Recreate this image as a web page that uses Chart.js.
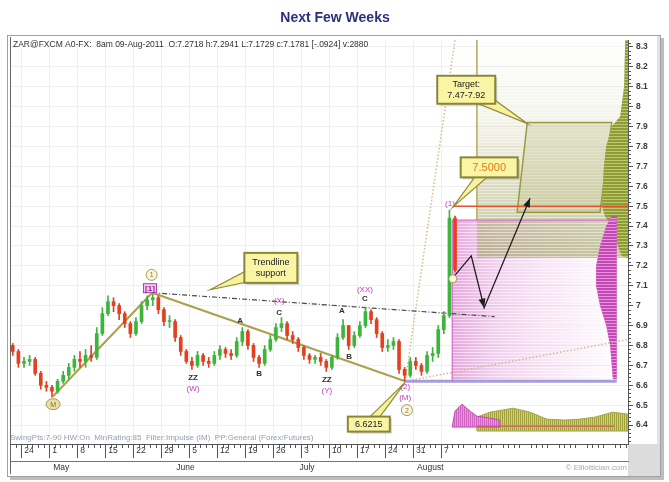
<!DOCTYPE html>
<html>
<head>
<meta charset="utf-8">
<title>Next Few Weeks</title>
<script src="https://cdn.jsdelivr.net/npm/chart.js@4.4.1/dist/chart.umd.min.js"></script>
<style>
  html, body { margin: 0; padding: 0; background: #fff; }
  #wrap { width: 669px; height: 482px; }
</style>
</head>
<body>
<div id="wrap"><canvas id="chart" width="669" height="482"></canvas></div>
<script>
/*****************************************
 * 1. DATA
 *****************************************/
// x is a trading-day index: week w starts at 5*w (Sun 24-Apr-2011 = 0), bar k sits at k + 0.5
const titleText = 'Next Few Weeks';
const headerText = 'ZAR@FXCM A0-FX:  8am 09-Aug-2011  O:7.2718 h:7.2941 L:7.1729 c:7.1781 [-.0924] v:2880';
const footerText = 'SwingPts:7-90 HW:On  MinRating:85  Filter:Impulse (IM)  PP:General (Forex/Futures)';
const creditText = '\u00A9 Elliottician.com';

const firstBar = -2;
const firstOpen = 6.80;
const closes = [6.77, 6.71, 6.72, 6.73, 6.66, 6.60, 6.59, 6.57, 6.62, 6.65,
                6.69, 6.73, 6.72, 6.75, 6.74, 6.86, 6.96, 7.02, 7.00, 6.96,
                6.91, 6.86, 6.92, 7.00, 7.03, 7.04, 6.98, 6.92, 6.92, 6.84,
                6.77, 6.72, 6.70, 6.75, 6.72, 6.71, 6.75, 6.78, 6.76, 6.75,
                6.82, 6.87, 6.80, 6.74, 6.71, 6.78, 6.83, 6.89, 6.91, 6.85,
                6.83, 6.79, 6.75, 6.73, 6.74, 6.72, 6.69, 6.74, 6.84, 6.90,
                6.80, 6.85, 6.90, 6.97, 6.93, 6.86, 6.79, 6.80, 6.82, 6.68,
                6.65, 6.72, 6.70, 6.67, 6.75, 6.76, 6.88, 6.95, 7.44, 7.18];
const highs  = [6.81, 6.78, 6.74, 6.75, 6.74, 6.67, 6.62, 6.60, 6.63, 6.67,
                6.71, 6.75, 6.77, 6.78, 6.80, 6.89, 6.99, 7.05, 7.04, 7.01,
                6.97, 6.92, 6.94, 7.02, 7.05, 7.06, 7.05, 6.99, 6.95, 6.93,
                6.85, 6.78, 6.74, 6.77, 6.76, 6.74, 6.77, 6.80, 6.79, 6.78,
                6.84, 6.89, 6.88, 6.81, 6.75, 6.80, 6.85, 6.91, 6.94, 6.92,
                6.87, 6.84, 6.80, 6.76, 6.75, 6.76, 6.73, 6.75, 6.86, 6.93,
                6.90, 6.87, 6.92, 6.99, 6.98, 6.94, 6.87, 6.83, 6.84, 6.83,
                6.69, 6.74, 6.74, 6.71, 6.77, 6.79, 6.90, 6.97, 7.48, 7.45];
const lows   = [6.75, 6.69, 6.69, 6.70, 6.65, 6.58, 6.57, 6.54, 6.56, 6.61,
                6.63, 6.67, 6.69, 6.69, 6.72, 6.73, 6.85, 6.95, 6.97, 6.93,
                6.89, 6.84, 6.85, 6.91, 6.98, 7.00, 6.96, 6.90, 6.89, 6.82,
                6.75, 6.71, 6.68, 6.69, 6.70, 6.69, 6.70, 6.73, 6.74, 6.73,
                6.74, 6.80, 6.78, 6.72, 6.69, 6.70, 6.77, 6.82, 6.87, 6.83,
                6.81, 6.77, 6.73, 6.71, 6.71, 6.70, 6.67, 6.68, 6.73, 6.83,
                6.78, 6.79, 6.84, 6.89, 6.91, 6.84, 6.77, 6.77, 6.78, 6.66,
                6.62, 6.64, 6.68, 6.65, 6.66, 6.72, 6.74, 6.86, 6.94, 7.17];

// axes
const yTickValues = [6.4, 6.5, 6.6, 6.7, 6.8, 6.9, 7.0, 7.1, 7.2, 7.3,
                     7.4, 7.5, 7.6, 7.7, 7.8, 7.9, 8.0, 8.1, 8.2, 8.3];
const weekTicks = [0, 5, 10, 15, 20, 25, 30, 35, 40, 45, 50, 55, 60, 65, 70, 75];
const dayLabels = ['24', '1', '8', '15', '22', '29', '5', '12', '19', '26', '3', '10', '17', '24', '31', '7'];
const monthTicks = [5, 27, 49, 70];
const monthLabels = ['May', 'June', 'July', 'August'];

// wave structure lines
const trendX = [5.7, 23.4, 68.6];
const trendY = [6.545, 7.065, 6.62];
const supportX = [23.4, 84.6];
const supportY = [7.065, 6.945];
const fanSteepX = [68.6, 77.5];
const fanSteepY = [6.62, 8.335];
const fanFlatX = [68.6, 108.4];
const fanFlatY = [6.62, 6.83];
const levelX = [77.1, 108.4];
const levelY = [7.5, 7.5];
const projX = [77.1, 80.4, 82.7, 90.9];
const projY = [7.14, 7.25, 6.99, 7.54];

// zones
const pinkZoneX = [77.0, 106.4];
const pinkZoneY = [6.62, 7.43];
const oliveZoneX = [81.4, 108.4];
const oliveZoneY = [7.24, 8.335];
const targetX = [90.4, 105.5, 103.4, 88.6];
const targetY = [7.92, 7.92, 7.47, 7.47];

// price profiles on the right (left edge, in x units)
const oliveProfY = [8.335, 8.1, 7.95, 7.9, 7.8, 7.7, 7.6, 7.5, 7.45, 7.4, 7.3, 7.25, 7.24];
const oliveProfX = [107.9, 107.7, 107.0, 105.5, 104.5, 104.1, 103.9, 103.75, 104.3, 105.5, 106.6, 107.3, 108.4];
const pinkProfY = [7.45, 7.4, 7.3, 7.2, 7.1, 7.0, 6.9, 6.8, 6.7, 6.63];
const pinkProfX = [105.5, 104.5, 103.4, 102.7, 102.7, 103.4, 104.5, 105.2, 105.5, 105.7];
const pinkProfRight = 106.4;

// oscillator strip at the bottom
const oscPinkX = [77.0, 77.5, 78.75, 80.2, 81.4, 83.75, 85.5];
const oscPinkY = [6.39, 6.47, 6.505, 6.47, 6.445, 6.435, 6.425];
const oscPinkBase = 6.39;
const oscOliveX = [81.4, 83.75, 87.9, 90.9, 93.9, 97.1, 99.8, 102.5, 105.7, 108.4];
const oscOliveY = [6.44, 6.465, 6.485, 6.465, 6.43, 6.425, 6.43, 6.44, 6.465, 6.455];
const oscOliveBase = 6.37;
const oscLineX = [81.4, 106.0];
const oscLineY = [6.395, 6.395];

// wave labels
const waveText = ['ZZ', 'A', 'B', 'C', 'ZZ', 'A', 'B', 'C'];
const waveX = [30.7, 39.1, 42.5, 46.1, 54.6, 57.3, 58.6, 61.4];
const waveY = [6.64, 6.925, 6.66, 6.965, 6.63, 6.975, 6.745, 7.035];
const degreeText = ['(W)', '(X)', '(Y)', '(XX)', '(2)', '(M)', '(1)'];
const degreeX = [30.7, 46.1, 54.6, 61.4, 68.6, 68.6, 76.6];
const degreeY = [6.58, 7.025, 6.57, 7.08, 6.59, 6.535, 7.51];
const circleText = ['1', 'M', '2', ''];
const circleX = [23.3, 5.7, 68.9, 77.1];
const circleY = [7.155, 6.505, 6.475, 7.135];

// callouts
const callText = [['Trendline', 'support'], ['Target:', '7.47-7.92'], ['7.5000'], ['6.6215']];
const callX = [44.6, 79.5, 83.6, 62.1];
const callY = [7.19, 8.085, 7.695, 6.405];
const tipX = [33.75, 90.4, 77.1, 68.6];
const tipY = [7.08, 7.915, 7.495, 6.615];

/*****************************************
 * 2. HELPERS
 *****************************************/
const FONT = '"Liberation Sans", Arial, sans-serif';
const UP = '#3cb53c';
const DOWN = '#e2401f';
const PURPLE = '#bf3cbb';

const bars = closes.map((c, i) => {
    const open = i === 0 ? firstOpen : closes[i - 1];
    return { x: firstBar + i + 0.5, open, close: c, high: highs[i], low: lows[i] };
});

function pts(xs, ys) {
    return xs.map((x, i) => ({ x, y: ys[i] }));
}

function hStripes(ctx, left, top, right, bottom, color, step) {
    ctx.strokeStyle = color;
    ctx.lineWidth = 1;
    ctx.beginPath();
    for (let y = Math.floor(top) + 0.5; y <= bottom; y += step) {
        ctx.moveTo(left, y);
        ctx.lineTo(right, y);
    }
    ctx.stroke();
}

function vStripes(ctx, left, top, right, bottom, color, step) {
    ctx.strokeStyle = color;
    ctx.lineWidth = 1;
    ctx.beginPath();
    for (let x = Math.floor(left) + 0.5; x <= right; x += step) {
        ctx.moveTo(x, top);
        ctx.lineTo(x, bottom);
    }
    ctx.stroke();
}

/*****************************************
 * 3. PLUGINS
 *****************************************/
const framePlugin = {
    id: 'frame',
    beforeDraw(chart) {
        const { ctx, chartArea: ca } = chart;
        ctx.save();
        ctx.fillStyle = '#ffffff';
        ctx.fillRect(0, 0, chart.width, chart.height);
        // title
        ctx.fillStyle = '#2c2f7e';
        ctx.font = 'bold 14px ' + FONT;
        ctx.textAlign = 'center';
        ctx.textBaseline = 'middle';
        ctx.fillText(titleText, 335, 18);
        // panel with shadow
        ctx.fillStyle = '#bdbdbd';
        ctx.fillRect(10, 38, 654, 442);
        ctx.fillStyle = '#ffffff';
        ctx.fillRect(7, 35, 654, 442);
        ctx.strokeStyle = '#a0a0a0';
        ctx.lineWidth = 1;
        ctx.strokeRect(7.5, 35.5, 653, 441);
        ctx.fillStyle = '#dcdcdc';
        ctx.fillRect(ca.right, ca.bottom, 660 - ca.right, 476 - ca.bottom);
        ctx.fillStyle = '#e2e2e2';
        ctx.fillRect(657, 36, 3, ca.bottom - 36);
        ctx.restore();
    }
};

const zonePlugin = {
    id: 'zones',
    beforeDatasetsDraw(chart) {
        const { ctx, chartArea: ca } = chart;
        const X = v => chart.scales.x.getPixelForValue(v);
        const Y = v => chart.scales.y.getPixelForValue(v);
        ctx.save();
        ctx.beginPath();
        ctx.rect(ca.left, ca.top, ca.width, ca.height);
        ctx.clip();

        // pink retrace zone
        let l = X(pinkZoneX[0]), r = X(pinkZoneX[1]), t = Y(pinkZoneY[1]), b = Y(pinkZoneY[0]);
        let g = ctx.createLinearGradient(l, 0, r, 0);
        g.addColorStop(0, 'rgba(212,110,200,0.60)');
        g.addColorStop(0.25, 'rgba(222,140,212,0.42)');
        g.addColorStop(0.7, 'rgba(235,180,228,0.25)');
        g.addColorStop(1, 'rgba(245,215,242,0.10)');
        ctx.fillStyle = g;
        ctx.fillRect(l, t, r - l, b - t);
        hStripes(ctx, l, t, r, b, 'rgba(255,255,255,0.55)', 3);

        // olive target zone, fading upward
        l = X(oliveZoneX[0]); r = X(oliveZoneX[1]); t = Y(oliveZoneY[1]); b = Y(oliveZoneY[0]);
        g = ctx.createLinearGradient(0, b, 0, t);
        g.addColorStop(0, 'rgba(160,160,100,0.62)');
        g.addColorStop(0.3, 'rgba(175,175,115,0.45)');
        g.addColorStop(0.65, 'rgba(195,195,150,0.18)');
        g.addColorStop(1, 'rgba(225,225,200,0.04)');
        ctx.fillStyle = g;
        ctx.fillRect(l, t, r - l, b - t);
        hStripes(ctx, l, t, r, b, 'rgba(255,255,255,0.45)', 3);

        // target parallelogram
        ctx.beginPath();
        targetX.forEach((x, i) => i ? ctx.lineTo(X(x), Y(targetY[i])) : ctx.moveTo(X(x), Y(targetY[i])));
        ctx.closePath();
        ctx.fillStyle = 'rgba(190,190,130,0.30)';
        ctx.fill();
        ctx.strokeStyle = '#9c9a42';
        ctx.lineWidth = 1.5;
        ctx.stroke();

        // olive price profile
        ctx.save();
        ctx.beginPath();
        ctx.moveTo(X(108.4), Y(oliveProfY[0]));
        oliveProfY.forEach((p, i) => ctx.lineTo(X(oliveProfX[i]), Y(p)));
        ctx.lineTo(X(108.4), Y(oliveProfY[oliveProfY.length - 1]));
        ctx.closePath();
        ctx.fillStyle = '#8e9c34';
        ctx.fill();
        ctx.clip();
        hStripes(ctx, X(100), ca.top, ca.right, Y(7.2), 'rgba(205,215,130,0.75)', 3);
        ctx.restore();

        // pink price profile
        ctx.save();
        ctx.beginPath();
        ctx.moveTo(X(pinkProfRight), Y(pinkProfY[0]));
        pinkProfY.forEach((p, i) => ctx.lineTo(X(pinkProfX[i]), Y(p)));
        ctx.lineTo(X(pinkProfRight), Y(pinkProfY[pinkProfY.length - 1]));
        ctx.closePath();
        ctx.fillStyle = '#c447b6';
        ctx.fill();
        ctx.clip();
        hStripes(ctx, X(100), Y(7.5), ca.right, Y(6.6), 'rgba(240,170,232,0.8)', 3);
        ctx.restore();

        // oscillator: olive area then pink hump
        ctx.save();
        ctx.beginPath();
        ctx.moveTo(X(oscOliveX[0]), Y(oscOliveBase));
        oscOliveX.forEach((x, i) => ctx.lineTo(X(x), Y(oscOliveY[i])));
        ctx.lineTo(X(oscOliveX[oscOliveX.length - 1]), Y(oscOliveBase));
        ctx.closePath();
        ctx.fillStyle = '#cfcf78';
        ctx.fill();
        ctx.strokeStyle = '#a8a84a';
        ctx.lineWidth = 1;
        ctx.stroke();
        ctx.clip();
        vStripes(ctx, X(oscOliveX[0]), Y(6.5), ca.right, Y(oscOliveBase), '#a2a23e', 2);
        ctx.restore();

        ctx.save();
        ctx.beginPath();
        ctx.moveTo(X(oscPinkX[0]), Y(oscPinkBase));
        oscPinkX.forEach((x, i) => ctx.lineTo(X(x), Y(oscPinkY[i])));
        ctx.lineTo(X(oscPinkX[oscPinkX.length - 1]), Y(oscPinkBase));
        ctx.closePath();
        ctx.fillStyle = '#e596dc';
        ctx.fill();
        ctx.strokeStyle = '#c04cb4';
        ctx.lineWidth = 1;
        ctx.stroke();
        ctx.clip();
        vStripes(ctx, X(oscPinkX[0]), Y(6.52), X(oscPinkX[oscPinkX.length - 1]), Y(oscPinkBase), 'rgba(190,70,175,0.6)', 2);
        ctx.restore();

        ctx.restore();
    }
};

const notePlugin = {
    id: 'notes',
    afterDatasetsDraw(chart) {
        const { ctx, chartArea: ca } = chart;
        const X = v => chart.scales.x.getPixelForValue(v);
        const Y = v => chart.scales.y.getPixelForValue(v);
        ctx.save();

        // arrowheads on the projected path
        ctx.fillStyle = '#1e1e1e';
        for (let i = 2; i < projX.length; i++) {
            const x1 = X(projX[i - 1]), y1 = Y(projY[i - 1]), x2 = X(projX[i]), y2 = Y(projY[i]);
            const a = Math.atan2(y2 - y1, x2 - x1);
            ctx.beginPath();
            ctx.moveTo(x2, y2);
            ctx.lineTo(x2 - 9 * Math.cos(a) + 3.5 * Math.sin(a), y2 - 9 * Math.sin(a) - 3.5 * Math.cos(a));
            ctx.lineTo(x2 - 9 * Math.cos(a) - 3.5 * Math.sin(a), y2 - 9 * Math.sin(a) + 3.5 * Math.cos(a));
            ctx.closePath();
            ctx.fill();
        }

        // circled degree labels
        ctx.textAlign = 'center';
        ctx.textBaseline = 'middle';
        circleText.forEach((txt, i) => {
            const x = X(circleX[i]), y = Y(circleY[i]);
            ctx.beginPath();
            if (txt === 'M') {
                ctx.ellipse(x, y, 7, 5.5, 0, 0, Math.PI * 2);
                ctx.fillStyle = '#e9e0a2';
            } else {
                ctx.arc(x, y, txt ? 5.5 : 4, 0, Math.PI * 2);
                ctx.fillStyle = '#fbf7dd';
            }
            ctx.fill();
            ctx.strokeStyle = '#a8985a';
            ctx.lineWidth = 1;
            ctx.stroke();
            ctx.fillStyle = '#84733a';
            ctx.font = '7px ' + FONT;
            ctx.fillText(txt, x, y + 0.5);
        });

        // [1] box
        {
            const x = X(23.0), y = Y(7.088);
            ctx.fillStyle = '#f4c6f0';
            ctx.fillRect(x - 7, y - 5, 14, 10);
            ctx.strokeStyle = '#b33fb0';
            ctx.lineWidth = 1;
            ctx.strokeRect(x - 7 + 0.5, y - 5 + 0.5, 13, 9);
            ctx.fillStyle = '#9b239a';
            ctx.font = 'bold 8px ' + FONT;
            ctx.fillText('[1]', x, y + 0.5);
        }

        // wave letters
        ctx.font = 'bold 8px ' + FONT;
        ctx.fillStyle = '#303030';
        waveText.forEach((txt, i) => ctx.fillText(txt, X(waveX[i]), Y(waveY[i])));
        ctx.font = '8px ' + FONT;
        ctx.fillStyle = PURPLE;
        degreeText.forEach((txt, i) => ctx.fillText(txt, X(degreeX[i]), Y(degreeY[i])));

        // callouts
        const callW = [53, 58, 57, 42];
        const callH = [30, 28, 20, 15];
        const callColor = ['#222222', '#222222', '#e6781e', '#222222'];
        const callFont = ['9px ', '9px ', '11px ', '9px '];
        callText.forEach((lines, i) => {
            const cx = X(callX[i]), cy = Y(callY[i]);
            const tx = X(tipX[i]), ty = Y(tipY[i]);
            const w = callW[i], h = callH[i];
            const a = Math.atan2(ty - cy, tx - cx);
            const bw = Math.min(w, h) * 0.3;
            // shadow
            ctx.fillStyle = 'rgba(0,0,0,0.18)';
            ctx.fillRect(cx - w / 2 + 2, cy - h / 2 + 2, w, h);
            // pointer
            ctx.beginPath();
            ctx.moveTo(tx, ty);
            ctx.lineTo(cx + bw * Math.sin(a), cy - bw * Math.cos(a));
            ctx.lineTo(cx - bw * Math.sin(a), cy + bw * Math.cos(a));
            ctx.closePath();
            ctx.fillStyle = '#f7f29b';
            ctx.fill();
            ctx.strokeStyle = '#8d8a3c';
            ctx.lineWidth = 1.2;
            ctx.stroke();
            // box
            ctx.fillStyle = '#f9f5a4';
            ctx.fillRect(cx - w / 2, cy - h / 2, w, h);
            ctx.strokeStyle = '#8a8638';
            ctx.lineWidth = 2;
            ctx.strokeRect(cx - w / 2, cy - h / 2, w, h);
            ctx.fillStyle = callColor[i];
            ctx.font = callFont[i] + FONT;
            const lh = 11;
            lines.forEach((s, j) => ctx.fillText(s, cx, cy + (j - (lines.length - 1) / 2) * lh + 0.5));
        });

        // header / footer texts
        ctx.textAlign = 'left';
        ctx.fillStyle = '#333333';
        ctx.font = '8.5px ' + FONT;
        ctx.fillText(headerText, ca.left + 3, 45);
        ctx.fillStyle = '#95a0b4';
        ctx.font = '8px ' + FONT;
        ctx.fillText(footerText, ca.left, ca.bottom - 6);
        ctx.textAlign = 'right';
        ctx.fillStyle = '#a8a8a8';
        ctx.fillText(creditText, ca.right - 1, 468);

        // ruler ticks: days under the plot, 0.02 on the price axis
        ctx.strokeStyle = '#555555';
        ctx.lineWidth = 1;
        ctx.beginPath();
        for (let d = -1; d <= 108; d++) {
            if (d % 5 === 0) continue;
            const x = Math.round(X(d)) + 0.5;
            ctx.moveTo(x, ca.bottom);
            ctx.lineTo(x, ca.bottom + 4);
        }
        for (let k = 632; k <= 832; k += 2) {
            if (k % 10 === 0) continue;
            const y = Math.round(Y(k / 100)) + 0.5;
            ctx.moveTo(ca.right, y);
            ctx.lineTo(ca.right + 3, y);
        }
        ctx.stroke();

        // plot left edge
        ctx.strokeStyle = '#666666';
        ctx.beginPath();
        ctx.moveTo(ca.left + 0.5, ca.top - 3);
        ctx.lineTo(ca.left + 0.5, 474);
        ctx.stroke();
        ctx.restore();
    }
};

/*****************************************
 * 4. CHART
 *****************************************/
const lineDs = (xs, ys, color, width, dash, order) => ({
    type: 'line',
    data: pts(xs, ys),
    borderColor: color,
    borderWidth: width,
    borderDash: dash,
    pointRadius: 0,
    fill: false,
    tension: 0,
    order
});

const chart = new Chart(document.getElementById('chart'), {
    type: 'line',
    data: {
        datasets: [
            {
                type: 'bar',
                data: bars.map(b => ({ x: b.x, y: [b.open, b.close] })),
                backgroundColor: bars.map(b => b.close >= b.open ? UP : DOWN),
                barThickness: 3,
                minBarLength: 1,
                grouped: false,
                borderWidth: 0,
                order: 0
            },
            {
                type: 'bar',
                data: bars.map(b => ({ x: b.x, y: [b.low, b.high] })),
                backgroundColor: bars.map(b => b.close >= b.open ? UP : DOWN),
                barThickness: 1,
                grouped: false,
                borderWidth: 0,
                order: 1
            },
            lineDs(projX, projY, '#1e1e1e', 1.3, [], 2),
            lineDs(trendX, trendY, '#ada04c', 2, [], 3),
            lineDs(supportX, supportY, '#4a4a4a', 1.2, [5, 2, 1, 2], 4),
            lineDs(levelX, levelY, '#e0552d', 1.5, [], 5),
            lineDs([77.0, 77.0, 106.4], [6.62, 7.43, 7.43], '#d46ccc', 1.2, [], 6),
            lineDs([68.6, 106.4], [6.62, 6.62], '#a49ddc', 3, [], 7),
            lineDs([81.4, 81.4], [8.335, 7.43], '#b9b16e', 1, [], 8),
            lineDs(fanSteepX, fanSteepY, '#d6b98c', 1.5, [1.5, 2], 9),
            lineDs(fanFlatX, fanFlatY, '#d6b98c', 1.5, [1.5, 2], 10),
            lineDs(oscLineX, oscLineY, '#d2566a', 1.3, [], 11)
        ]
    },
    options: {
        responsive: false,
        animation: false,
        events: [],
        layout: { padding: { left: 10, right: 11, top: 40, bottom: 8 } },
        plugins: {
            legend: { display: false },
            tooltip: { enabled: false },
            title: { display: false }
        },
        scales: {
            x: {
                type: 'linear',
                position: 'bottom',
                min: -2,
                max: 108.4,
                offset: false,
                afterBuildTicks: s => { s.ticks = weekTicks.map(v => ({ value: v })); },
                afterFit: s => { s.height = 17; },
                ticks: {
                    callback: (v, i) => dayLabels[i],
                    align: 'start',
                    labelOffset: 3,
                    padding: -12,
                    maxRotation: 0,
                    autoSkip: false,
                    color: '#333333',
                    font: { family: FONT, size: 8.5 }
                },
                grid: { offset: false, color: '#efefef', tickColor: '#555555', tickLength: 14 },
                border: { display: true, color: '#555555' }
            },
            xm: {
                type: 'linear',
                position: 'bottom',
                min: -2,
                max: 108.4,
                offset: false,
                afterBuildTicks: s => { s.ticks = monthTicks.map(v => ({ value: v })); },
                afterFit: s => { s.height = 13; },
                ticks: {
                    callback: (v, i) => monthLabels[i],
                    align: 'start',
                    labelOffset: 4,
                    padding: 2,
                    maxRotation: 0,
                    autoSkip: false,
                    color: '#333333',
                    font: { family: FONT, size: 8.5 }
                },
                grid: { display: false, drawTicks: false, tickLength: 0, offset: false },
                border: { display: true, color: '#777777' }
            },
            y: {
                type: 'linear',
                position: 'right',
                min: 6.305,
                max: 8.335,
                afterBuildTicks: s => { s.ticks = yTickValues.map(v => ({ value: v })); },
                afterFit: s => { s.width = 30; },
                ticks: {
                    callback: v => String(Math.round(v * 10) / 10),
                    padding: 3,
                    autoSkip: false,
                    color: '#3a3a3a',
                    font: { family: FONT, size: 8.5, weight: 'bold' }
                },
                grid: { color: '#efefef', tickColor: '#555555', tickLength: 5 },
                border: { display: true, color: '#555555' }
            }
        }
    },
    plugins: [framePlugin, zonePlugin, notePlugin]
});
</script>
</body>
</html>
